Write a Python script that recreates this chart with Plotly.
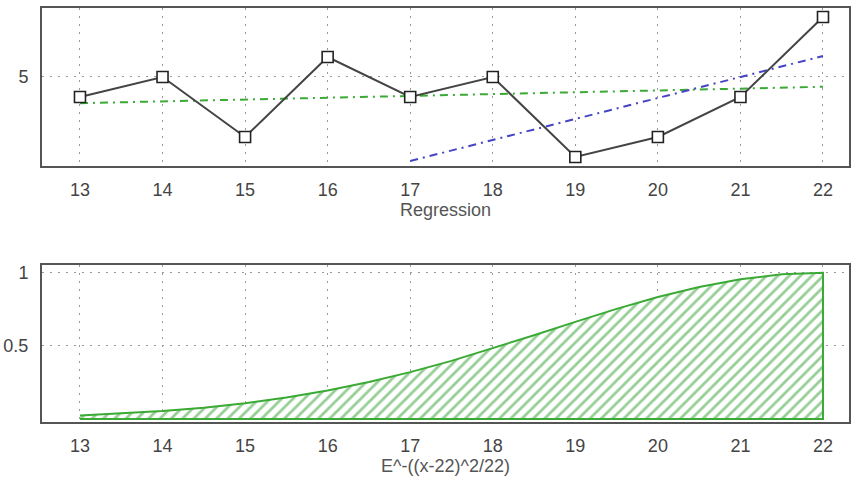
import plotly.graph_objects as go
from plotly.subplots import make_subplots

# Top panel data
x_top = [13, 14, 15, 16, 17, 18, 19, 20, 21, 22]
y_top = [4, 5, 2, 6, 4, 5, 1, 2, 4, 8]
green_x = [13, 22]
green_y = [3.69, 4.51]
blue_x = [17, 22]
blue_y = [0.8, 6.05]

# Bottom panel data
x_bot = [13, 13.5, 14, 14.5, 15, 15.5, 16, 16.5, 17, 17.5, 18, 18.5, 19, 19.5, 20, 20.5, 21, 21.5, 22]
y_bot = [0.025, 0.038, 0.055, 0.078, 0.108, 0.147, 0.195, 0.253, 0.321, 0.398, 0.484, 0.573,
         0.664, 0.753, 0.834, 0.903, 0.956, 0.989, 1.0]

x_ticks = [13, 14, 15, 16, 17, 18, 19, 20, 21, 22]

fig = make_subplots(rows=2, cols=1)

fig.add_trace(go.Scatter(x=green_x, y=green_y, mode="lines",
                         line=dict(color="#3aaa35", width=2, dash="8px,5px,2px,5px"),
                         showlegend=False), row=1, col=1)
fig.add_trace(go.Scatter(x=blue_x, y=blue_y, mode="lines",
                         line=dict(color="#4444c4", width=2, dash="8px,5px,2px,5px"),
                         showlegend=False), row=1, col=1)
fig.add_trace(go.Scatter(x=x_top, y=y_top, mode="lines+markers",
                         line=dict(color="#444444", width=2),
                         marker=dict(symbol="square", size=11, color="white",
                                     line=dict(color="#222222", width=1.6)),
                         showlegend=False), row=1, col=1)

poly_x = x_bot + [x_bot[-1], x_bot[0]]
poly_y = y_bot + [0, 0]
fig.add_trace(go.Scatter(x=poly_x, y=poly_y, mode="lines", fill="toself",
                         line=dict(color="#3aaa35", width=2),
                         fillcolor="white",
                         fillpattern=dict(shape="/", fgcolor="#2e9e2e", bgcolor="white",
                                          size=8, solidity=0.35),
                         showlegend=False), row=2, col=1)

font_family = "Liberation Sans, Arial"
axis_common = dict(showline=True, mirror=True, linecolor="#555555", linewidth=2,
                   showgrid=True, gridcolor="#999999", griddash="2px,6px", gridwidth=1.2,
                   zeroline=False, ticks="", automargin=False,
                   tickfont=dict(family=font_family, size=18, color="#444444"))

fig.update_xaxes(**axis_common, range=[12.54, 22.315], tickvals=x_ticks, ticklabelstandoff=6)
fig.update_xaxes(title=dict(text="Regression", font=dict(family=font_family, size=18, color="#555555"), standoff=2), row=1, col=1)
fig.update_xaxes(title=dict(text="E^-((x-22)^2/22)", font=dict(family=font_family, size=18, color="#555555"), standoff=2), row=2, col=1)
fig.update_yaxes(**axis_common, ticklabelstandoff=8)
fig.update_yaxes(range=[0.55, 8.45], tickvals=[5], row=1, col=1)
fig.update_yaxes(range=[-0.02, 1.053], tickvals=[0.5, 1], row=2, col=1)

fig.update_layout(
    width=851, height=479,
    margin=dict(l=42, r=2, t=8, b=57, autoexpand=False),
    paper_bgcolor="white", plot_bgcolor="white",
    xaxis=dict(domain=[0, 1]), yaxis=dict(domain=[0.6184, 1.0]),
    xaxis2=dict(domain=[0, 1]), yaxis2=dict(domain=[0.0, 0.3792]),
)

fig.write_html("out.html", config={"displayModeBar": False},
               post_script="document.body.style.margin='0';")
